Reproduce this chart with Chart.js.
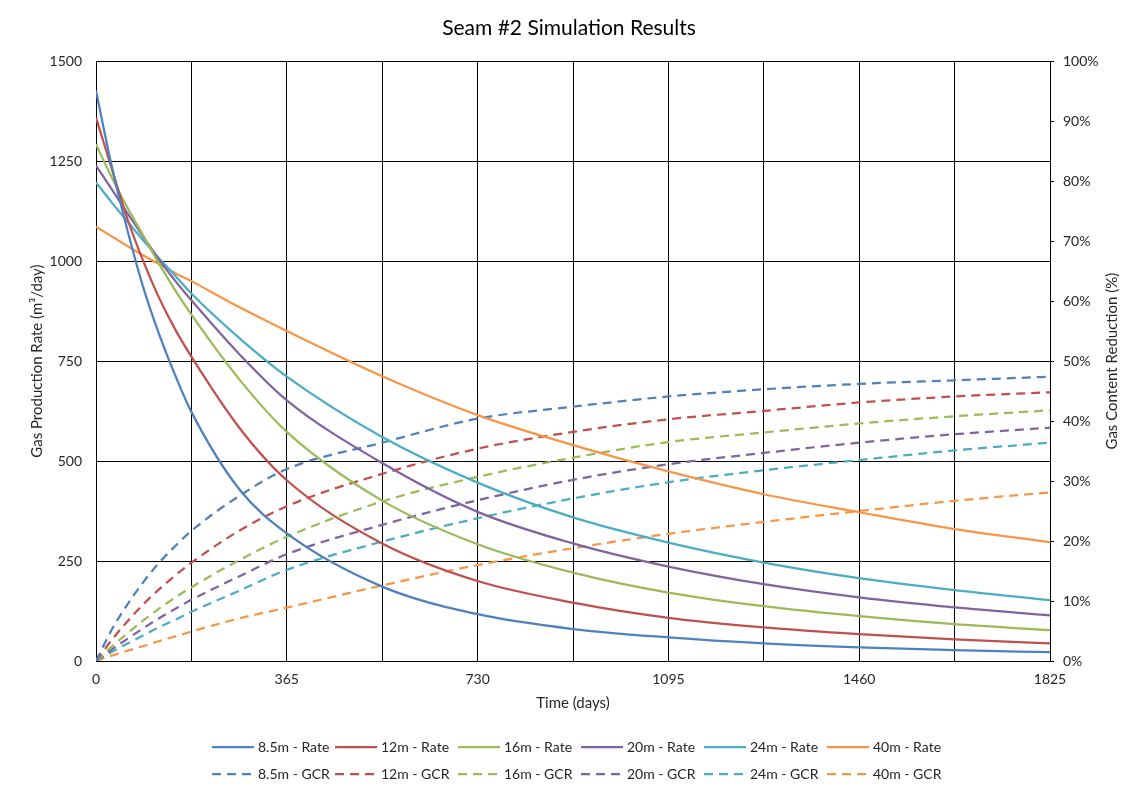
<!DOCTYPE html>
<html>
<head>
<meta charset="utf-8">
<title>Seam #2 Simulation Results</title>
<script src="https://cdn.jsdelivr.net/npm/chart.js@4.4.0/dist/chart.umd.min.js"></script>
<style>
  html, body { margin: 0; padding: 0; background: #fff; }
  #wrap { position: relative; width: 1138px; height: 792px; font-family: Lato, sans-serif; }
  #chart { position: absolute; left: 0; top: 0; }
  #legend { position: absolute; left: 212px; top: 733px; }
  .row { display: flex; height: 27px; align-items: center; }
  .item { width: 123px; display: flex; align-items: center; font-size: 14px; color: #262626; white-space: nowrap; }
  .item svg { margin-right: 4px; }
</style>
</head>
<body>
<div id="wrap">
  <canvas id="chart" width="1138" height="792"></canvas>
  <div id="legend"></div>
</div>
<script>
// time axis (days) shared by every series
const days = [0, 30, 60, 91, 120, 152, 182.5, 273.75, 365, 547.5, 730, 912.5, 1095, 1277.5, 1460, 1642.5, 1825];

const seams = ["8.5m", "12m", "16m", "20m", "24m", "40m"];
const colours = ["#4F81BD", "#C0504D", "#9BBB59", "#8064A2", "#4BACC6", "#F79646"];

// gas production rate, m3/day
const rate85 = [1426, 1238, 1078, 932, 820, 713, 623, 430, 319, 186, 117, 80, 59, 44, 34, 27, 22];
const rate12 = [1359, 1232, 1106, 998, 910, 828, 761, 584, 452, 294, 200, 146, 108, 84, 67, 54, 44];
const rate16 = [1292, 1210, 1134, 1063, 995, 926, 866, 705, 573, 401, 292, 221, 171, 137, 112, 92, 77];
const rate20 = [1239, 1180, 1120, 1060, 1005, 950, 902, 768, 652, 495, 373, 294, 236, 192, 159, 134, 114];
const rate24 = [1197, 1147, 1099, 1051, 1008, 963, 919, 808, 711, 560, 446, 359, 296, 246, 207, 177, 152];
const rate40 = [1086, 1062, 1038, 1014, 993, 970, 950, 885, 825, 712, 615, 540, 474, 417, 372, 330, 297];

// gas content reduction, %
const gcr85 = [0, 5.2, 9.4, 13.2, 16.3, 19.2, 21.7, 27.5, 32.0, 36.4, 40.4, 42.4, 44.1, 45.3, 46.2, 46.8, 47.4];
const gcr12 = [0, 3.5, 6.6, 9.5, 11.9, 14.3, 16.4, 21.7, 25.8, 31.2, 35.4, 38.2, 40.3, 41.7, 43.1, 44.1, 44.8];
const gcr16 = [0, 2.4, 4.6, 6.8, 8.7, 10.6, 12.3, 16.8, 20.7, 26.6, 30.7, 33.9, 36.5, 38.1, 39.6, 40.8, 41.8];
const gcr20 = [0, 1.9, 3.7, 5.5, 7.1, 8.7, 10.2, 14.1, 17.8, 22.7, 26.8, 30.2, 32.8, 34.7, 36.4, 37.8, 38.9];
const gcr24 = [0, 1.5, 2.9, 4.3, 5.6, 6.9, 8.2, 11.7, 15.2, 19.9, 23.8, 27.1, 29.8, 31.8, 33.5, 35.1, 36.4];
const gcr40 = [0, 0.9, 1.7, 2.5, 3.3, 4.1, 4.9, 7.1, 8.9, 12.6, 16.0, 18.8, 21.2, 23.2, 25.0, 26.7, 28.1];

const rates = [rate85, rate12, rate16, rate20, rate24, rate40];
const gcrs = [gcr85, gcr12, gcr16, gcr20, gcr24, gcr40];

const dash = [9, 6];
const textColour = "#262626";
const font = { family: "Lato", size: 14 };
const titleFont = { family: "Lato", size: 15 };

function points(values) {
    return days.map((d, i) => ({ x: d, y: values[i] }));
}

const datasets = [];
seams.forEach((s, i) => {
    datasets.push({
        label: s + " - Rate",
        data: points(rates[i]),
        borderColor: colours[i],
        yAxisID: "y"
    });
});
seams.forEach((s, i) => {
    datasets.push({
        label: s + " - GCR",
        data: points(gcrs[i]),
        borderColor: colours[i],
        borderDash: dash,
        yAxisID: "y2"
    });
});

// right axis title reads bottom-to-top like the left one
const rightTitle = {
    id: "rightTitle",
    afterDraw(chart) {
        const s = chart.scales.y2;
        const ctx = chart.ctx;
        ctx.save();
        ctx.translate(1112, (s.top + s.bottom) / 2);
        ctx.rotate(-Math.PI / 2);
        ctx.font = "15px Lato";
        ctx.fillStyle = textColour;
        ctx.textAlign = "center";
        ctx.textBaseline = "middle";
        ctx.fillText("Gas Content Reduction (%)", 0, 0);
        ctx.restore();
    }
};

new Chart(document.getElementById("chart"), {
    type: "line",
    data: { datasets: datasets },
    plugins: [rightTitle],
    options: {
        responsive: false,
        animation: false,
        layout: { padding: 0 },
        elements: {
            point: { radius: 0 },
            line: { borderWidth: 2.25, cubicInterpolationMode: "monotone", fill: false }
        },
        plugins: {
            legend: { display: false },
            tooltip: { enabled: false },
            title: {
                display: true,
                text: "Seam #2 Simulation Results",
                color: "#000",
                font: { family: "Lato", size: 21, weight: "normal" },
                padding: { top: 16, bottom: 20 }
            }
        },
        scales: {
            x: {
                type: "linear",
                min: 0,
                max: 1825,
                afterFit: s => { s.height = 131; },
                ticks: {
                    stepSize: 182.5,
                    autoSkip: false,
                    maxRotation: 0,
                    padding: 10,
                    color: textColour,
                    font: font,
                    callback: v => (v % 365 === 0 ? String(v) : "")
                },
                grid: { color: "#000", drawTicks: false },
                border: { color: "#000" },
                title: {
                    display: true,
                    text: "Time (days)",
                    color: textColour,
                    font: titleFont,
                    padding: { top: 0, bottom: 80 }
                }
            },
            y: {
                position: "left",
                min: 0,
                max: 1500,
                afterFit: s => { s.width = 96; },
                ticks: { stepSize: 250, padding: 14, color: textColour, font: font, callback: v => String(v) },
                grid: { color: "#000", drawTicks: false },
                border: { color: "#000" },
                title: {
                    display: true,
                    text: "Gas Production Rate (m³/day)",
                    color: textColour,
                    font: titleFont,
                    padding: { top: 28, bottom: 0 }
                }
            },
            y2: {
                position: "right",
                min: 0,
                max: 100,
                afterFit: s => { s.width = 88; },
                ticks: { stepSize: 10, padding: 9, color: textColour, font: font, callback: v => v + "%" },
                grid: { drawOnChartArea: false, drawTicks: true, tickLength: 4, color: "#000" },
                border: { color: "#000" }
            }
        }
    }
});

// legend: two rows of six, rate on top, GCR underneath
const legend = document.getElementById("legend");
[["Rate", null], ["GCR", dash]].forEach(([kind, pattern]) => {
    const row = document.createElement("div");
    row.className = "row";
    seams.forEach((s, i) => {
        const item = document.createElement("div");
        item.className = "item";
        const da = pattern ? ' stroke-dasharray="' + pattern.join(" ") + '"' : "";
        item.innerHTML = '<svg width="42" height="6"><line x1="0" y1="3" x2="42" y2="3" stroke="' +
            colours[i] + '" stroke-width="2.25"' + da + '/></svg><span>' + s + " - " + kind + "</span>";
        row.appendChild(item);
    });
    legend.appendChild(row);
});
</script>
</body>
</html>
